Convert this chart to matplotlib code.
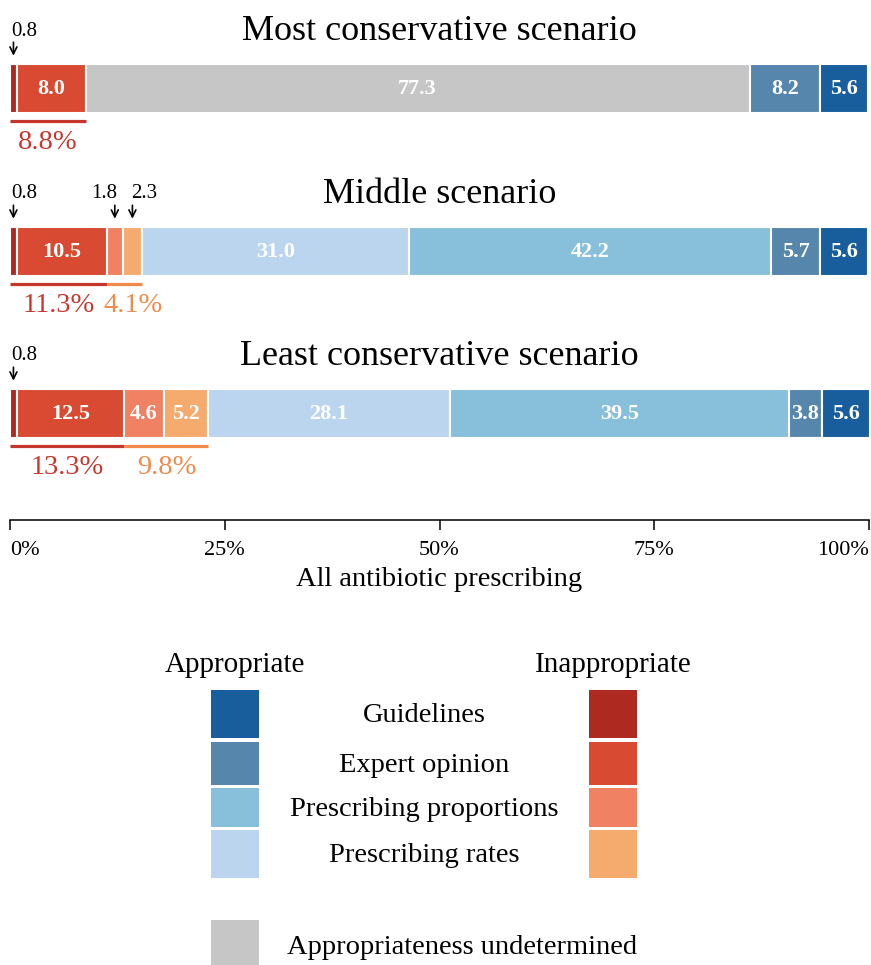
import matplotlib
matplotlib.use("Agg")
import matplotlib.pyplot as plt
from matplotlib.patches import Rectangle

plt.rcParams['font.family'] = ['Liberation Serif', 'DejaVu Serif']

# segment order, left to right
categories = ['Inappropriate guidelines', 'Inappropriate expert opinion',
              'Inappropriate prescribing proportions', 'Inappropriate prescribing rates',
              'Appropriateness undetermined',
              'Appropriate prescribing rates', 'Appropriate prescribing proportions',
              'Appropriate expert opinion', 'Appropriate guidelines']
colors = ['#AE2A21', '#D84A32', '#F08162', '#F5AB6E', '#C6C6C6',
          '#BBD5EF', '#88BFDB', '#5786AC', '#195E9C']

scenarios = ['Most conservative scenario', 'Middle scenario', 'Least conservative scenario']
most_vals = [0.8, 8.0, 0, 0, 77.3, 0, 0, 8.2, 5.6]
middle_vals = [0.8, 10.5, 1.8, 2.3, 0, 31.0, 42.2, 5.7, 5.6]
least_vals = [0.8, 12.5, 4.6, 5.2, 0, 28.1, 39.5, 3.8, 5.6]
all_vals = [most_vals, middle_vals, least_vals]

# alignment of the small labels over arrows, by category index
small_ha = {0: 'left', 2: 'right', 3: 'left'}

ticks = [0, 25, 50, 75, 100]
tick_labels = ['0%', '25%', '50%', '75%', '100%']

red_txt = '#C8362D'
orange_txt = '#F08A4A'

W, H = 871, 965
fig = plt.figure(figsize=(W / 100, H / 100), dpi=100)

# main axes: x in percent, y in pixels from the top
axis_y = 520
ax = fig.add_axes([10 / W, (H - axis_y) / H, 859 / W, axis_y / H])
ax.set_xlim(0, 100)
ax.set_ylim(axis_y, 0)

bar_centers = [88, 251, 413]
bar_h = 49

for name, vals, yc in zip(scenarios, all_vals, bar_centers):
    top = yc - bar_h / 2
    bot = yc + bar_h / 2
    left = 0
    for i, v in enumerate(vals):
        if v <= 0:
            continue
        ax.barh(yc, v, left=left, height=bar_h, color=colors[i],
                edgecolor='white', linewidth=1.5)
        mid = left + v / 2
        if v >= 3:
            ax.text(mid, yc + 1, f'{v:.1f}', ha='center', va='center',
                    color='white', fontweight='bold', fontsize=16)
        else:
            ax.annotate('', xy=(mid, top - 5), xytext=(mid, top - 24),
                        arrowprops=dict(arrowstyle='->,head_length=0.5,head_width=0.25',
                                        color='black', lw=1.2))
            ax.text(mid - 0.2 if small_ha[i] == 'left' else mid + 0.3, top - 23,
                    f'{v:.1f}', ha=small_ha[i], va='bottom', fontsize=15)
        left += v
    ax.text(50, top - 32, name, ha='center', va='center', fontsize=26)

    # inappropriate totals
    red_tot = vals[0] + vals[1]
    orange_tot = vals[2] + vals[3]
    ly = bot + 8
    ax.plot([0, red_tot], [ly, ly], color='#C5352B', lw=2.3, solid_capstyle='butt')
    ax.text(red_tot / 2, ly + 22, f'{red_tot:.1f}%', ha='center', va='center',
            color=red_txt, fontsize=20.5)
    if orange_tot > 0:
        ax.plot([red_tot, red_tot + orange_tot], [ly, ly], color='#F08A48', lw=2.3,
                solid_capstyle='butt')
        ox = max(red_tot + orange_tot / 2, red_tot + 3.0)
        ax.text(ox, ly + 22, f'{orange_tot:.1f}%', ha='center', va='center',
                color=orange_txt, fontsize=20.5)

for s in ['top', 'left', 'right']:
    ax.spines[s].set_visible(False)
ax.spines['bottom'].set_linewidth(1.1)
ax.set_yticks([])
ax.set_xticks(ticks)
ax.set_xticklabels(tick_labels, fontsize=16)
for lab, ha in zip(ax.get_xticklabels(), ['left', 'center', 'center', 'center', 'right']):
    lab.set_ha(ha)
ax.tick_params(axis='x', direction='out', length=7, width=1.1, pad=8)
ax.set_xlabel('All antibiotic prescribing', fontsize=20.5, labelpad=5)

# legend drawn in pixel coordinates
lg = fig.add_axes([0, 0, 1, 1])
lg.set_xlim(0, W)
lg.set_ylim(H, 0)
lg.axis('off')

row_tops = [690, 742, 788, 830]
row_bots = [738, 785, 827, 878]
row_names = ['Guidelines', 'Expert opinion', 'Prescribing proportions', 'Prescribing rates']
app_cols = [colors[8], colors[7], colors[6], colors[5]]
inapp_cols = [colors[0], colors[1], colors[2], colors[3]]

lg.text(235, 665, 'Appropriate', ha='center', va='center', fontsize=21)
lg.text(613, 665, 'Inappropriate', ha='center', va='center', fontsize=21)
for t, b, nm, ca, ci in zip(row_tops, row_bots, row_names, app_cols, inapp_cols):
    lg.add_patch(Rectangle((211, t), 48, b - t, color=ca, lw=0))
    lg.add_patch(Rectangle((589, t), 48, b - t, color=ci, lw=0))
    lg.text(424, (t + b) / 2 + 2, nm, ha='center', va='center', fontsize=20.5)

lg.add_patch(Rectangle((211, 920), 48, 46, color=colors[4], lw=0))
lg.text(287, 947, 'Appropriateness undetermined', ha='left', va='center', fontsize=20.5)

fig.savefig('out.png', dpi=100)
